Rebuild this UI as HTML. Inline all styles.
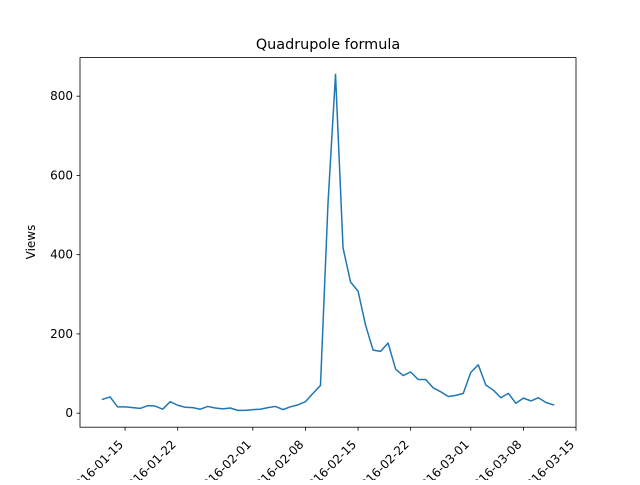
<!DOCTYPE html>
<html><head><meta charset="utf-8"><style>
body{margin:0;background:#fff}
text{font-family:"Liberation Sans","DejaVu Sans",sans-serif;fill:#000}
</style></head><body>
<svg id="chart" width="640" height="480" viewBox="0 0 640 480">
<rect width="640" height="480" fill="#fff"/>
<text x="328" y="49" font-size="14.4" text-anchor="middle" style="font-family:'DejaVu Sans',sans-serif">Quadrupole formula</text>
<text transform="translate(35,242) rotate(-90)" font-size="12" text-anchor="middle" style="font-family:'DejaVu Sans',sans-serif">Views</text>
<g id="plot"></g>
</svg>
<script>
const startDate = "2016-01-12";
const views = [35,41,16,16,14,12,19,18,10,29,20,15,14,10,17,13,11,13,7,7,9,10,14,17,9,16,21,29,50,70,
530,855,417,331,308,222,159,156,177,111,95,104,85,85,64,54,42,45,50,103,122,71,58,39,50,25,38,31,39,27,21];
const yTicks = [0,200,400,600,800];
const xTickLabels = ["2016-01-15","2016-01-22","2016-02-01","2016-02-08","2016-02-15","2016-02-22","2016-03-01","2016-03-08","2016-03-15"];

const L=80,R=576,T=57.6,B=427.2;
const day=864e5;
const t0=Date.parse(startDate);
const n=views.length;
const xmin=t0-3*day, xmax=t0+(n-1)*day+3*day;
const vmax=Math.max(...views), vmin=Math.min(...views), pad=(vmax-vmin)*0.05;
const ymin=vmin-pad, ymax=vmax+pad;
const X=t=>L+(t-xmin)/(xmax-xmin)*(R-L);
const Y=v=>B-(v-ymin)/(ymax-ymin)*(B-T);
const NS="http://www.w3.org/2000/svg";
const g=document.getElementById('plot');
function mk(tag,attrs){const e=document.createElementNS(NS,tag);for(const k in attrs)e.setAttribute(k,attrs[k]);g.appendChild(e);return e;}

const pts=views.map((v,i)=>X(t0+i*day).toFixed(2)+","+Y(v).toFixed(2)).join(" ");
const line=mk('polyline',{points:pts,fill:'none',stroke:'#1f77b4','stroke-width':1.5,'stroke-linejoin':'round','stroke-linecap':'square'});



const frame=mk('rect',{x:L,y:T,width:R-L,height:B-T,fill:'none',stroke:'#000','stroke-width':0.8});



yTicks.forEach(v=>{
  const y=Y(v);
  const tk=mk('line',{x1:L-3.5,x2:L,y1:y,y2:y,stroke:'#000','stroke-width':0.8});
  
  
  const tx=mk('text',{x:L-7,y:y+4,'font-size':12,'text-anchor':'end',style:"font-family:'DejaVu Sans',sans-serif"});
  tx.textContent=v;
  
  
});
xTickLabels.forEach(s=>{
  const x=X(Date.parse(s));
  const tk=mk('line',{x1:x,x2:x,y1:B,y2:B+3.5,stroke:'#000','stroke-width':0.8});
  
  
  const tx=mk('text',{transform:`translate(${x-1},${B+18}) rotate(-45)`,'font-size':12,'text-anchor':'end',style:"font-family:'DejaVu Sans',sans-serif"});
  tx.textContent=s;
  
  
});
</script>
</body></html>
